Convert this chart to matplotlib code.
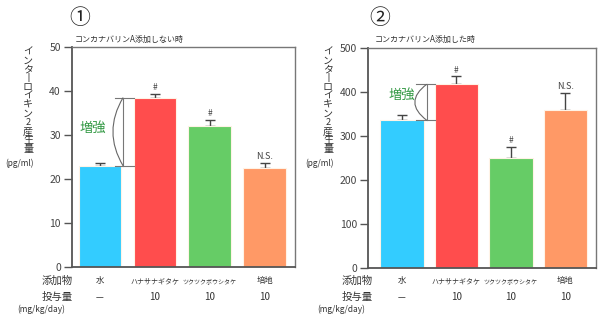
import matplotlib
matplotlib.use("Agg")
import matplotlib.pyplot as plt
from matplotlib.path import Path
from matplotlib.patches import PathPatch

plt.rcParams['font.family'] = ['Noto Sans CJK JP', 'DejaVu Sans']

# ---- data ----
categories = ["水", "ハナサナギタケ", "ツクツクボウシタケ", "培地"]
doses = ["－", "10", "10", "10"]
colors = ["#33CCFF", "#FF4D4D", "#66CC66", "#FF9966"]

values1 = [23.0, 38.5, 32.0, 22.4]
errors1 = [0.6, 0.9, 1.4, 1.2]
marks1 = ["", "#", "#", "N.S."]

values2 = [335, 417, 249, 358]
errors2 = [12, 18, 25, 40]
marks2 = ["", "#", "#", "N.S."]

panel_nums = ["①", "②"]
panel_titles = ["コンカナバリンA添加しない時", "コンカナバリンA添加した時"]
ylabel_chars = list("インターロイキン2産生量")
yticks1 = [0, 10, 20, 30, 40, 50]
yticks2 = [0, 100, 200, 300, 400, 500]

W, H = 600, 323
fig = plt.figure(figsize=(6, 3.23), dpi=100)
fig.patch.set_facecolor("white")

def px(x, y):
    return x / W, 1 - y / H

def draw_panel(ax_rect_px, vals, errs, marks, ymax, yticks, xlim, width,
               num, title, off, bracket, txt_pos, mark_off):
    x0, y0, x1, y1 = ax_rect_px
    ax = fig.add_axes([x0 / W, 1 - y1 / H, (x1 - x0) / W, (y1 - y0) / H])
    xs = list(range(len(vals)))
    ax.bar(xs, vals, width=width, color=colors, edgecolor="#FFF3E6",
           linewidth=0.8, zorder=2)
    ax.errorbar(xs, vals, yerr=[[0] * len(errs), errs], fmt="none",
                ecolor="#444444", elinewidth=1.0, capsize=3.8, capthick=1.0,
                zorder=1)
    for x, v, e, m in zip(xs, vals, errs, marks):
        if m:
            ax.text(x, v + e + mark_off, m, ha="center", va="bottom",
                    fontsize=6 if m == "#" else 6.5, color="#444444")
    ax.set_xlim(*xlim)
    ax.set_ylim(0, ymax)
    ax.set_yticks(yticks)
    ax.set_xticks([])
    ax.tick_params(axis="y", direction="out", length=6, width=1,
                   color="#555555", labelcolor="#444444", labelsize=7.5, pad=2)
    for s in ["left", "bottom"]:
        ax.spines[s].set_color("#555555")
        ax.spines[s].set_linewidth(1.3)
    for s in ["top", "right"]:
        ax.spines[s].set_color("#777777")
        ax.spines[s].set_linewidth(1.0)

    # bracket "増強"
    xl, xleft, xctrl, xr = bracket
    ytop, ybot = vals[1], vals[0]
    ax.plot([xl, xl], [ybot, ytop], color="#777777", lw=0.8, zorder=3)
    ax.plot([xleft, xr], [ytop, ytop], color="#777777", lw=0.8, zorder=3)
    ax.plot([xleft, xr], [ybot, ybot], color="#777777", lw=0.8, zorder=3)
    path = Path([(xl, ytop), (xctrl, (ytop + ybot) / 2), (xl, ybot)],
                [Path.MOVETO, Path.CURVE3, Path.CURVE3])
    ax.add_patch(PathPatch(path, fill=False, edgecolor="#666666", lw=0.8,
                           zorder=3))
    ax.text(txt_pos[0], txt_pos[1], "増強", ha="center", va="center",
            fontsize=9.5, color="#339944")

    # panel number & title
    fig.text(*px(off + 80, 18), num, ha="center", va="center", fontsize=15,
             color="#222222")
    fig.text(*px(off + 75, 39), title, ha="left", va="center", fontsize=5.8,
             color="#333333")

    # vertical y label
    n = len(ylabel_chars)
    top, bot = 52, 149
    step = (bot - top) / (n - 1)
    for i, ch in enumerate(ylabel_chars):
        shown = "丨" if ch == "ー" else ch
        fs = 6.5 if ch == "2" else 7.2
        fig.text(*px(off + 28, top + i * step), shown, ha="center",
                 va="center", fontsize=fs, color="#333333")
    fig.text(*px(off + 5, 163), "(pg/ml)", ha="left", va="center",
             fontsize=6, color="#333333")

    # row labels
    fig.text(*px(off + 57, 281), "添加物", ha="center", va="center",
             fontsize=7.5, color="#333333")
    fig.text(*px(off + 57, 297), "投与量", ha="center", va="center",
             fontsize=7.5, color="#333333")
    fig.text(*px(off + 41, 309), "(mg/kg/day)", ha="center", va="center",
             fontsize=6, color="#333333")
    for x, c, d in zip(xs, categories, doses):
        xd = ax.transData.transform((x, 0))[0]
        xf = fig.transFigure.inverted().transform((xd, 0))[0]
        fs = 6 if len(c) < 3 else (5 if len(c) < 8 else 4.3)
        fig.text(xf, 1 - 281 / H, c, ha="center", va="center", fontsize=fs,
                 color="#333333")
        fig.text(xf, 1 - 297 / H, d, ha="center", va="center", fontsize=7,
                 color="#333333")
    return ax

draw_panel((72, 47, 295, 267), values1, errors1, marks1, 50, yticks1,
           (-0.51, 3.55), 0.78, panel_nums[0], panel_titles[0], 0,
           (0.42, 0.27, 0.05, 0.61), (-0.13, 31.6), 0.4)
draw_panel((368, 47.7, 596, 267.7), values2, errors2, marks2, 500, yticks2,
           (-0.62, 3.56), 0.80, panel_nums[1], panel_titles[1], 300,
           (0.457, 0.26, 0.02, 0.6), (0.0, 392), 4)

fig.savefig("out.png", dpi=100, facecolor="white")
